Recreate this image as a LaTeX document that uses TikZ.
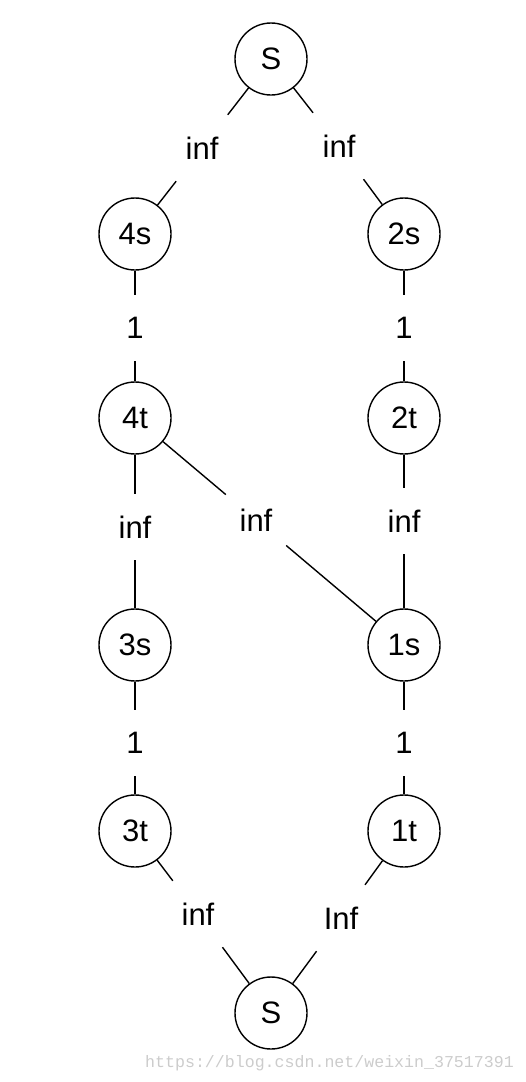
\documentclass[tikz,border=0pt]{standalone}
\usepackage{fontspec}
\setmainfont{Liberation Sans}
\newfontfamily\wmfont{Liberation Mono}
\begin{document}
\begin{tikzpicture}[x=1pt,y=-1pt,
  vert/.style={circle,draw,line width=1.4pt,minimum size=72pt,inner sep=0pt,font=\fontsize{31}{32}\selectfont},
  lab/.style={rectangle,minimum width=60pt,minimum height=66pt,inner sep=0pt,font=\fontsize{31}{32}\selectfont},
  edge/.style={line width=1.4pt}]
\useasboundingbox (0,0) rectangle (526,1082);
\node[vert] (S)  at (271,59) {S};
\node[vert] (s4) at (135,234) {4s};
\node[vert] (s2) at (404,234) {2s};
\node[vert] (t4) at (135,418) {4t};
\node[vert] (t2) at (404,418) {2t};
\node[vert] (s3) at (135,645) {3s};
\node[vert] (s1) at (404,645) {1s};
\node[vert] (t3) at (135,831) {3t};
\node[vert] (t1) at (404,831) {1t};
\node[vert] (T)  at (271,1013) {S};

\node[lab] (l1) at (202,148) {inf};
\node[lab] (l2) at (339,146) {inf};
\node[lab] (l3) at (135,328) {1};
\node[lab] (l4) at (404,328) {1};
\node[lab] (l5) at (135,527) {inf};
\node[lab] (l6) at (256,520) {inf};
\node[lab] (l7) at (404,521) {inf};
\node[lab] (l8) at (135,743) {1};
\node[lab] (l9) at (404,743) {1};
\node[lab] (l10) at (198,914) {inf};
\node[lab] (l11) at (341,918) {Inf};

\draw[edge] (S) -- (l1) -- (s4);
\draw[edge] (S) -- (l2) -- (s2);
\draw[edge] (s4) -- (l3) -- (t4);
\draw[edge] (s2) -- (l4) -- (t2);
\draw[edge] (t4) -- (l5) -- (s3);
\draw[edge] (t4) -- (l6) -- (s1);
\draw[edge] (t2) -- (l7) -- (s1);
\draw[edge] (s3) -- (l8) -- (t3);
\draw[edge] (s1) -- (l9) -- (t1);
\draw[edge] (t3) -- (l10) -- (T);
\draw[edge] (t1) -- (l11) -- (T);

\node[anchor=east,text=black!20,font=\wmfont\fontsize{16.6}{18}\selectfont,inner sep=0pt] (wm) at (514,1063) {https://blog.csdn.net/weixin\_37517391};
\end{tikzpicture}
\end{document}
